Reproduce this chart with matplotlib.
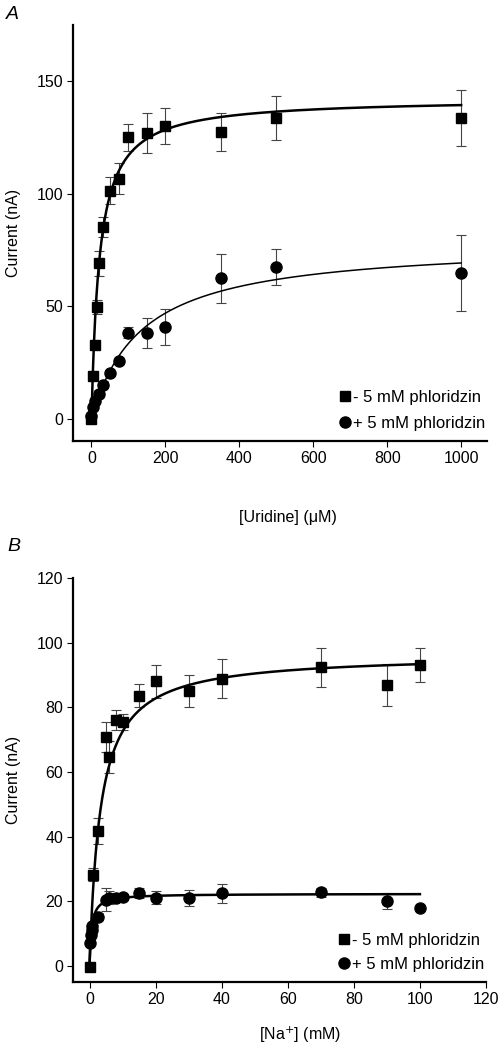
import numpy as np
import matplotlib.pyplot as plt

plt.rcParams['font.family'] = ['Liberation Sans', 'DejaVu Sans']

# panel A: uridine, without / with phloridzin
uri_x_minus = [0, 5, 10, 15, 20, 30, 50, 75, 100, 150, 200, 350, 500, 1000]
uri_y_minus = [0, 18.8, 32.5, 49.6, 69, 85, 101.3, 106.7, 125, 127, 130, 127.5, 133.5, 133.5]
uri_e_minus = [0.5, 1, 1.5, 3, 5.5, 4.5, 6, 7, 6, 9, 8, 8.5, 9.7, 12.5]

uri_x_plus = [0, 5, 10, 20, 30, 50, 75, 100, 150, 200, 350, 500, 1000]
uri_y_plus = [1.3, 5, 8, 11, 15, 20.2, 25.6, 38.2, 38.2, 40.8, 62.3, 67.5, 64.7]
uri_e_plus = [0.5, 1, 1, 1.5, 1.5, 1.5, 1.5, 2.5, 6.7, 8, 11, 8, 17]

# Michaelis-Menten fit parameters (Km, Vmax)
uri_fit_minus = (21.7, 142.4)
uri_fit_plus = (135.0, 78.5)

# panel B: Na+, without / with phloridzin
na_x_minus = [0, 1, 2.5, 5, 6, 8, 10, 15, 20, 30, 40, 70, 90, 100]
na_y_minus = [-0.3, 28.2, 41.6, 70.8, 64.6, 76, 75.3, 83.6, 88, 85, 88.8, 92.4, 87, 93]
na_e_minus = [0.5, 2, 4, 4.6, 5, 3, 2.5, 3.6, 5, 5, 6, 6, 6.5, 5.2]

na_x_plus = [0.25, 0.5, 0.6, 0.8, 2.5, 5, 6, 8, 10, 15, 20, 30, 40, 70, 90, 100]
na_y_plus = [7, 9.5, 11, 12.3, 15.2, 20.5, 21, 21, 21.3, 22.6, 21.1, 21.1, 22.4, 22.7, 20.1, 17.9]
na_e_plus = [0.5, 0.5, 0.5, 0.5, 1, 3.5, 2, 1, 1, 1.5, 2, 2.5, 3, 1.5, 2.5, 0.5]

na_fit_minus = (3.3, 96.4)
na_fit_plus = (0.6, 22.3)

lab_minus = '- 5 mM phloridzin'
lab_plus = '+ 5 mM phloridzin'


def mm(s, km, vmax):
    return vmax * s / (km + s)


def panel(ax, xm, ym, em, xp, yp, ep, fm, fp, xmax, lw_plus, spacing):
    s = np.linspace(0, xmax, 600)
    ax.plot(s, mm(s, *fm), color='black', lw=1.8, zorder=2)
    ax.plot(s, mm(s, *fp), color='black', lw=lw_plus, zorder=2)
    ax.errorbar(xm, ym, yerr=em, fmt='none', ecolor='#444444', elinewidth=0.8,
                capsize=3.5, capthick=0.8, zorder=1)
    ax.errorbar(xp, yp, yerr=ep, fmt='none', ecolor='#444444', elinewidth=0.8,
                capsize=3.5, capthick=0.8, zorder=1)
    ax.plot(xm, ym, 's', color='black', markersize=7.5, label=lab_minus, zorder=3)
    ax.plot(xp, yp, 'o', color='black', markersize=8, label=lab_plus, zorder=3)
    for sp in ['top', 'right']:
        ax.spines[sp].set_visible(False)
    for sp in ['left', 'bottom']:
        ax.spines[sp].set_linewidth(1.6)
    ax.tick_params(direction='out', length=4, width=0.8, labelsize=11.5, pad=3)
    ax.legend(loc='lower right', bbox_to_anchor=(1.02, 0.0), frameon=False,
              fontsize=12, handlelength=0.7, handletextpad=0.15,
              labelspacing=spacing, borderaxespad=0.3, borderpad=0.3)
    ax.set_ylabel('Current (nA)', fontsize=11.5)
    ax.yaxis.set_label_coords(-0.125, 0.5)


fig = plt.figure(figsize=(4.99, 10.5), dpi=100)

ax1 = fig.add_axes([0.1463, 0.58, 0.8297, 0.3962])
panel(ax1, uri_x_minus, uri_y_minus, uri_e_minus, uri_x_plus, uri_y_plus, uri_e_plus,
      uri_fit_minus, uri_fit_plus, 1000, 1.1, 0.65)
ax1.set_xlim(-50, 1070)
ax1.set_ylim(-10, 175)
ax1.set_xticks([0, 200, 400, 600, 800, 1000])
ax1.set_yticks([0, 50, 100, 150])
ax1.set_xlabel('[Uridine] (\u03bcM)', fontsize=11.5, va='center')
ax1.xaxis.set_label_coords(0.52, -0.183)

ax2 = fig.add_axes([0.1463, 0.0648, 0.8277, 0.3848])
panel(ax2, na_x_minus, na_y_minus, na_e_minus, na_x_plus, na_y_plus, na_e_plus,
      na_fit_minus, na_fit_plus, 100, 1.8, 0.55)
ax2.set_xlim(-5, 120)
ax2.set_ylim(-5, 120)
ax2.set_xticks([0, 20, 40, 60, 80, 100, 120])
ax2.set_yticks([0, 20, 40, 60, 80, 100, 120])
ax2.set_xlabel('[Na$^{+}$] (mM)', fontsize=11.5, va='center')
ax2.xaxis.set_label_coords(0.55, -0.13)

fig.text(0.024, 1 - 14.5 / 1050, 'A', fontsize=14, style='italic', ha='center', va='center')
fig.text(0.027, 1 - 546.5 / 1050, 'B', fontsize=14, style='italic', ha='center', va='center')

fig.savefig('out.png', dpi=100)
